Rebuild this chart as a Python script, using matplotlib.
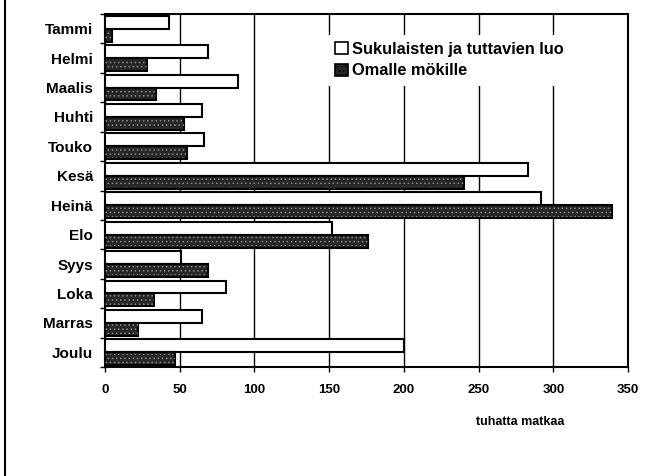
import matplotlib
matplotlib.use("Agg")
import matplotlib.pyplot as plt
import numpy as np
from matplotlib.patches import Patch
from matplotlib.lines import Line2D

months = ["Tammi", "Helmi", "Maalis", "Huhti", "Touko", "Kesä", "Heinä",
          "Elo", "Syys", "Loka", "Marras", "Joulu"]
sukulaiset = [43, 69, 89, 65, 66, 283, 292, 152, 51, 81, 65, 200]
mokille = [5, 28, 34, 53, 55, 240, 339, 176, 69, 33, 22, 47]
xticks = [0, 50, 100, 150, 200, 250, 300, 350]
label_suk = "Sukulaisten ja tuttavien luo"
label_mok = "Omalle mökille"
xlabel = "tuhatta matkaa"

plt.rcParams['font.family'] = ['Liberation Sans', 'DejaVu Sans']
plt.rcParams['hatch.linewidth'] = 0.6

fig = plt.figure(figsize=(6.6, 4.76), dpi=100)
ax = fig.add_axes([105/660, 1-367/476, 523/660, 353/476])

y = np.arange(len(months))
h = 0.44
off = 0.22
dark = '#262626'

ax.barh(y - off, sukulaiset, height=h, color='white', edgecolor='black', linewidth=1.5, zorder=3)
ax.barh(y + off, mokille, height=h, color=dark, edgecolor='black', linewidth=1.5, zorder=3)
ax.barh(y + off, mokille, height=h*0.75, fill=False, hatch='....', edgecolor='#8a8a8a', linewidth=0, zorder=4)

ax.set_xlim(0, 350)
ax.set_ylim(len(months) - 0.5, -0.5)
ax.set_xticks(xticks)
ax.set_xticklabels([str(v) for v in xticks], fontsize=9.5, fontweight='bold')
ax.set_yticks(np.arange(len(months) + 1) - 0.5, minor=False)
ax.set_yticklabels([])
ax.set_yticks(y, minor=True)
ax.set_yticklabels(months, minor=True, fontsize=11, fontweight='bold')
ax.tick_params(axis='y', which='minor', length=0, pad=8.5)
ax.tick_params(axis='y', which='major', length=3.5, width=1, direction='out')
ax.tick_params(axis='x', length=3.5, width=1, direction='out', pad=9)

ax.grid(axis='x', color='black', linewidth=1, zorder=1)
for s in ax.spines.values():
    s.set_linewidth(1.5)
    s.set_color('black')

handles = [Patch(facecolor='white', edgecolor='black', linewidth=1.2),
           Patch(facecolor=dark, edgecolor='black', linewidth=1.2, hatch='....')]
leg = ax.legend(handles, [label_suk, label_mok], loc='upper left',
                bbox_to_anchor=(0.41, 0.965), frameon=True, fancybox=False,
                framealpha=1, edgecolor='none', facecolor='white',
                handlelength=0.8, handleheight=0.8, handletextpad=0.25,
                borderpad=0.45, labelspacing=0.4,
                prop={'size': 11.8, 'weight': 'bold'})
leg.set_zorder(5)

fig.text(520/660, 1-422/476, xlabel, ha='center', va='center', fontsize=9, fontweight='bold')

fig.add_artist(Line2D([5/660, 5/660], [0, 1], color='black', linewidth=1.5, transform=fig.transFigure))

fig.savefig("out.png", dpi=100)
